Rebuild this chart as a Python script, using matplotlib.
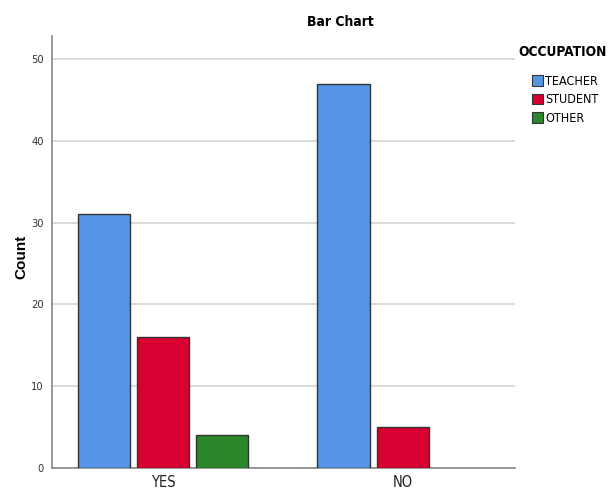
import numpy as np
import matplotlib.pyplot as plt
from matplotlib.patches import Patch

# data
categories = ['YES', 'NO']
occupations = ['TEACHER', 'STUDENT', 'OTHER']
teacher = [31, 47]
student = [16, 5]
other = [4, 0]
yticks = [0, 10, 20, 30, 40, 50]

colors = ['#5595E5', '#D70030', '#2A882A']
narrow = dict(family='DejaVu Sans', stretch='condensed')

fig = plt.figure(figsize=(6.08, 4.93), dpi=100)
ax = fig.add_axes([0.0855, 0.0507, 0.7615, 0.876])

x = np.arange(len(categories))
w = 0.22
step = 0.246
series = [teacher, student, other]
for k, vals in enumerate(series):
    for i, v in enumerate(vals):
        if v == 0:
            continue
        ax.bar(x[i] + (k - 1) * step, v, width=w, color=colors[k],
               edgecolor='#333333', linewidth=1.0, zorder=3)

ax.set_xlim(-0.4625, 1.467)
ax.set_ylim(0, 52.8)
ax.set_yticks(yticks)
ax.set_yticklabels([str(t) for t in yticks], fontsize=8, color='#333333', **narrow)
ax.set_xticks(x)
ax.set_xticklabels(categories, fontsize=10.5, color='#222222', **narrow)
ax.tick_params(axis='both', length=0, pad=5)
ax.tick_params(axis='y', pad=6)

ax.yaxis.grid(True, color='#D4D4D4', linewidth=1.2, zorder=0)
for s in ['top', 'right']:
    ax.spines[s].set_visible(False)
for s in ['left', 'bottom']:
    ax.spines[s].set_color('#888888')
    ax.spines[s].set_linewidth(1.2)

ax.set_ylabel('Count', fontsize=11, fontweight='bold', family='Liberation Sans')
ax.yaxis.set_label_coords(-0.052, 0.49)

fig.text(340 / 608, 1 - 22 / 493, 'Bar Chart', ha='center', va='center', fontsize=10,
         fontweight='bold', **narrow)
fig.text(518 / 608, 1 - 52 / 493, 'OCCUPATION', ha='left', va='center', fontsize=9.8,
         fontweight='bold', **narrow)

handles = [Patch(facecolor=c, edgecolor='#333333', linewidth=0.8) for c in colors]
fig.legend(handles, occupations, loc='upper left', bbox_to_anchor=(532 / 608, 1 - 75 / 493),
           frameon=False, prop=dict(size=9, **narrow), handlelength=0.85,
           handleheight=0.95, handletextpad=0.2, labelspacing=0.42, borderaxespad=0,
           borderpad=0)

fig.savefig('out.png', dpi=100)
